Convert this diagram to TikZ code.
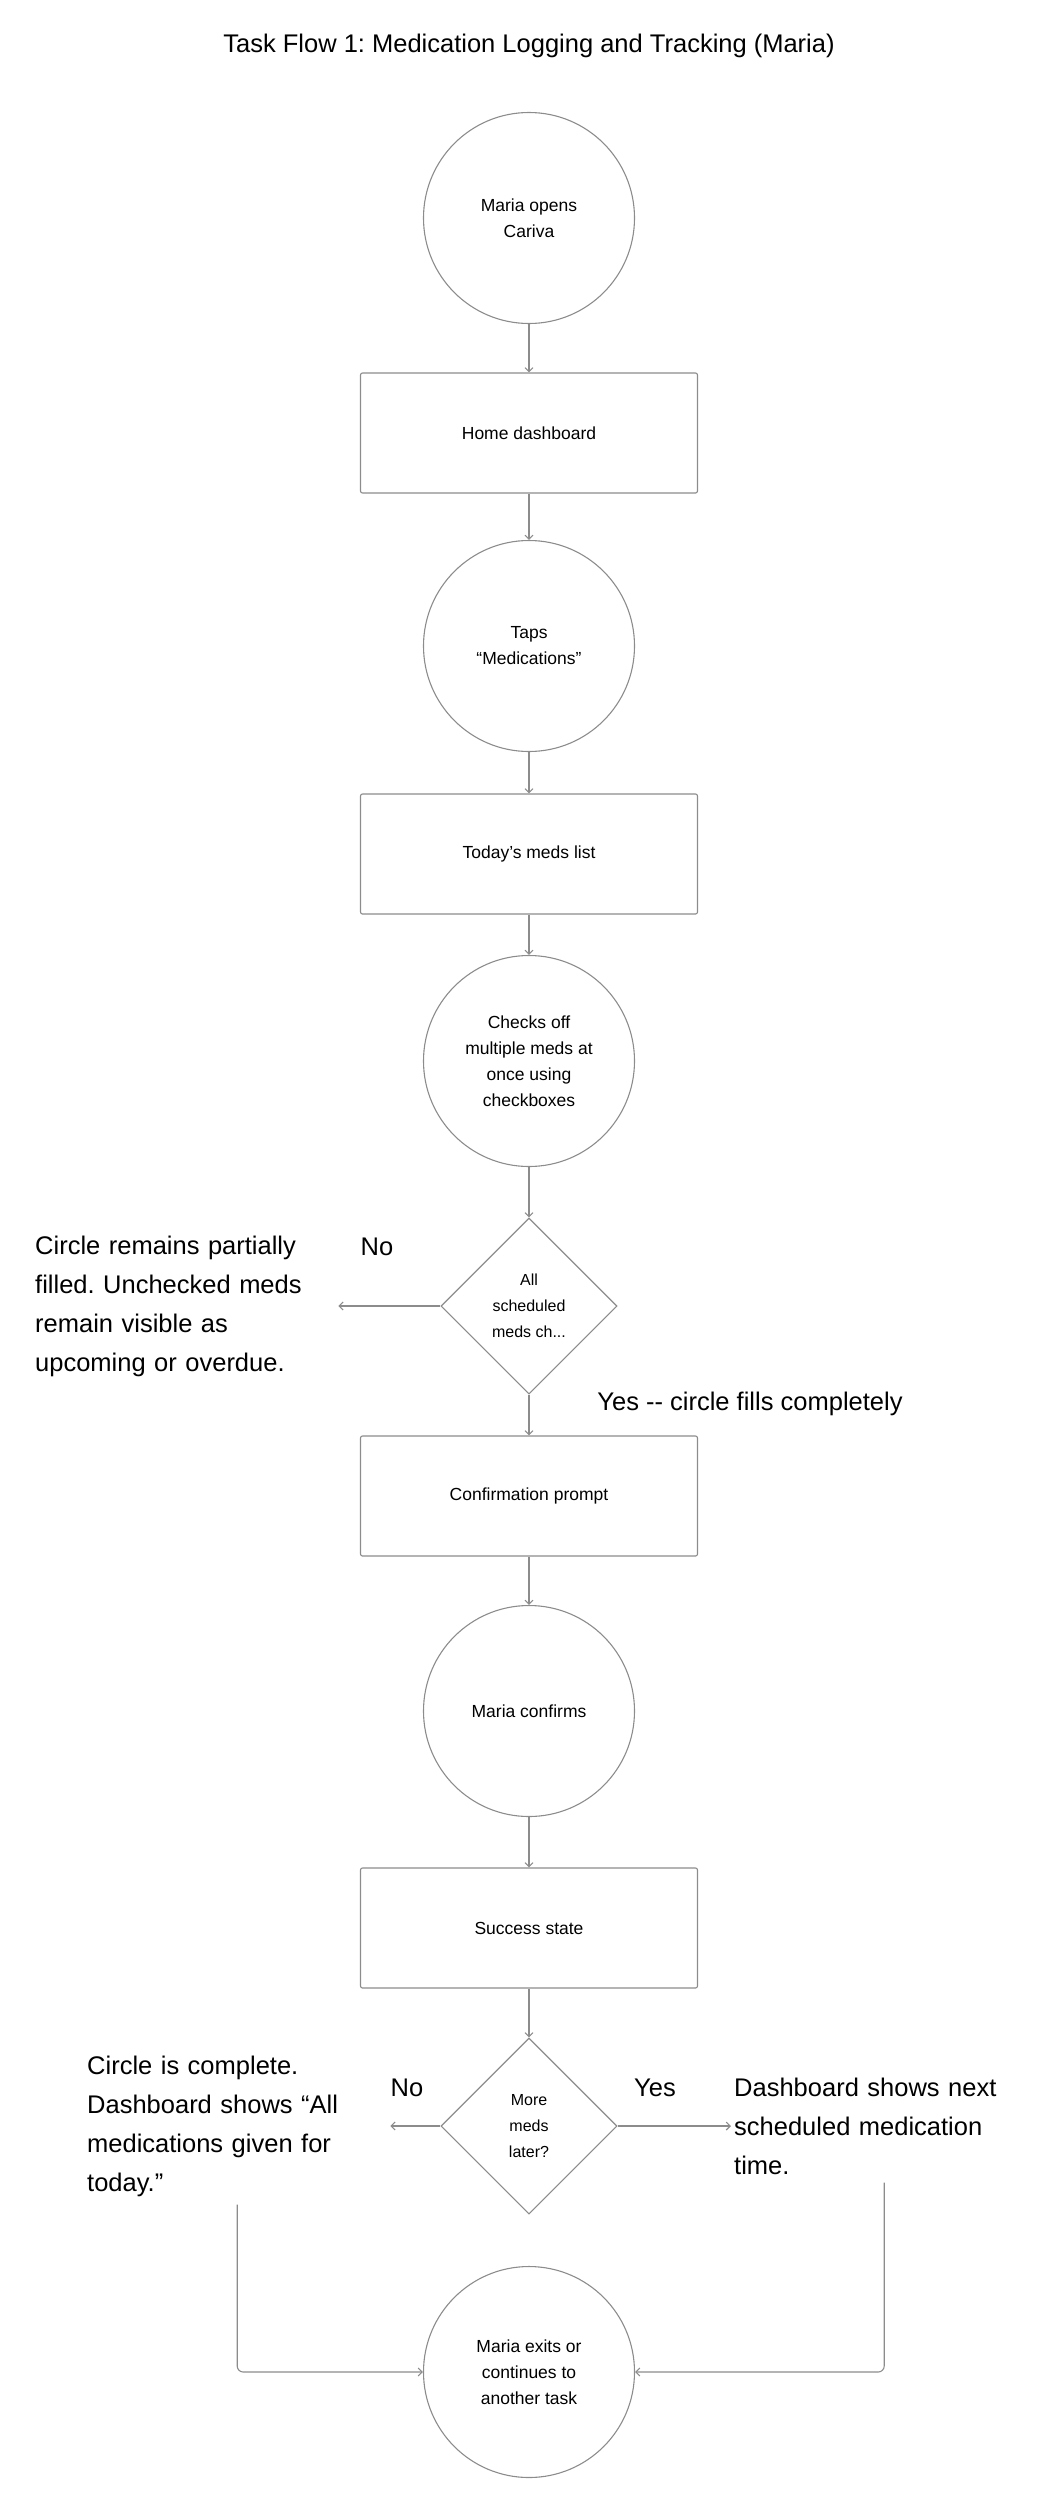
\documentclass[tikz,border=0pt]{standalone}
\usepackage{fontspec}
\setmainfont{Liberation Sans}
\usetikzlibrary{arrows.meta, positioning, shapes.geometric}
\definecolor{edge}{RGB}{140, 140, 140}
\frenchspacing

\begin{document}
\begin{tikzpicture}[
    x=1pt, y=-1pt,
    stepcirc/.style={draw=edge, line width=1.1pt, circle, minimum size=211pt,
                inner sep=0pt, align=center,
                font=\fontsize{17.5}{26}\selectfont},
    box/.style={draw=edge, line width=1.1pt, rounded corners=2pt,
                minimum width=337pt, minimum height=120pt, align=center,
                font=\fontsize{17.5}{26}\selectfont},
    decision/.style={draw=edge, line width=1.1pt, diamond, aspect=1,
                minimum width=176pt, minimum height=176pt, inner sep=0pt,
                align=center, font=\fontsize{16}{26}\selectfont},
    arr/.style={-{Straight Barb[length=4pt, width=8pt]}, line width=1.1pt, edge},
    note/.style={text width=300pt, inner xsep=3pt, inner ysep=8pt,
                align=left, font=\fontsize{25.5}{39}\selectfont},
    lbl/.style={font=\fontsize{25.5}{39}\selectfont, inner sep=0pt}
]

\useasboundingbox (0, 0) rectangle (1040, 2513);

\node[lbl] (title) at (529, 46)
    {Task Flow 1: Medication Logging and Tracking (Maria)};

\node[stepcirc] (open) at (529, 218) {Maria opens\\Cariva};
\node[box] (home) at (529, 433) {Home dashboard};
\node[stepcirc] (taps) at (529, 646) {Taps\\“Medications”};
\node[box] (today) at (529, 854) {Today’s meds list};
\node[stepcirc] (checks) at (529, 1061)
    {Checks off\\multiple meds at\\once using\\checkboxes};
\node[decision] (allchecked) at (529, 1306) {All\\scheduled\\meds ch...};
\node[box] (prompt) at (529, 1496) {Confirmation prompt};
\node[stepcirc] (confirms) at (529, 1711) {Maria confirms};
\node[box] (success) at (529, 1928) {Success state};
\node[decision] (morelater) at (529, 2126) {More\\meds\\later?};
\node[stepcirc] (exit) at (529, 2372)
    {Maria exits or\\continues to\\another task};

\node[note, anchor=west] (partial) at (32, 1306)
    {Circle remains partially\\filled. Unchecked meds\\remain visible as\\upcoming or overdue.};
\node[note, anchor=west] (complete) at (84, 2126)
    {Circle is complete.\\Dashboard shows “All\\medications given for\\today.”};
\node[note, anchor=west] (nextdose) at (731, 2126)
    {Dashboard shows next\\scheduled medication\\time.};

\node[lbl] (no1) at (377, 1247) {No};
\node[lbl] (yes1) at (750, 1404) {Yes -{}- circle fills completely};
\node[lbl] (no2) at (407, 2088) {No};
\node[lbl] (yes2) at (655, 2088) {Yes};

\draw[arr] (open) -- (home);
\draw[arr] (home) -- (taps);
\draw[arr] (taps) -- (today);
\draw[arr] (today) -- (checks);
\draw[arr] (checks) -- (allchecked);
\draw[arr] (allchecked) -- (prompt);
\draw[arr] (allchecked.west) -- (partial.east);
\draw[arr] (prompt) -- (confirms);
\draw[arr] (confirms) -- (success);
\draw[arr] (success) -- (morelater);
\draw[arr] (morelater.west) -- (complete.east);
\draw[arr] (morelater.east) -- (nextdose.west);

\draw[arr, rounded corners=6pt] (complete.south) |- (exit.west);
\draw[arr, rounded corners=6pt] (nextdose.south) |- (exit.east);

\end{tikzpicture}
\end{document}
